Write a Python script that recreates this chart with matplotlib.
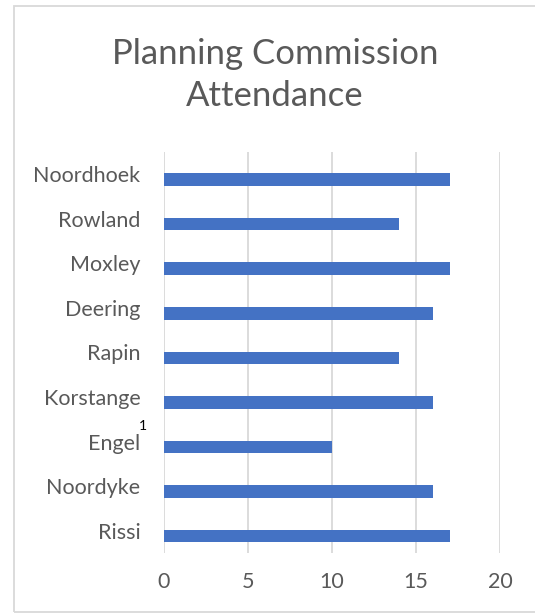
import matplotlib.pyplot as plt
from matplotlib.patches import Rectangle

names = ['Noordhoek', 'Rowland', 'Moxley', 'Deering', 'Rapin',
         'Korstange', 'Engel', 'Noordyke', 'Rissi']
attendance = [17, 14, 17, 16, 14, 16, 10, 16, 17]
xticks = [0, 5, 10, 15, 20]

plt.rcParams['font.family'] = ['Lato', 'DejaVu Sans']
gray = '#595959'

fig = plt.figure(figsize=(5.35, 6.14), dpi=100)
ax = fig.add_axes([164 / 535, 61 / 614, 336 / 535, 401 / 614])

pos = list(range(len(names)))
bar_pos = [p + 0.12 for p in pos]
ax.barh(bar_pos, attendance, height=0.28, color='#4472C4', zorder=3)

ax.set_xlim(0, 20)
ax.set_ylim(len(names) - 0.5, -0.5)
ax.set_xticks(xticks)
ax.set_yticks(pos)
ax.set_yticklabels(names)
ax.tick_params(axis='both', length=0, labelsize=15.5, colors=gray)
ax.tick_params(axis='y', pad=17)
ax.tick_params(axis='x', pad=14)
ax.grid(axis='x', color='#D9D9D9', linewidth=1.3, zorder=0)
for s in ax.spines.values():
    s.set_visible(False)

# footnote marker next to Engel
ax.text(-1.25, 5.66, '1', fontsize=10, color='black', ha='center', va='center',
        transform=ax.transData, clip_on=False)

fig.text(275 / 535, 1 - 75 / 614, 'Planning Commission\nAttendance',
         ha='center', va='center', fontsize=25, color=gray, linespacing=1.4)

fig.patches.append(Rectangle((14 / 535, 2 / 614), 1.2, 1 - 8 / 614,
                             transform=fig.transFigure, fill=False,
                             edgecolor='#D9D9D9', linewidth=1.3))

fig.savefig('out.png', dpi=100)
